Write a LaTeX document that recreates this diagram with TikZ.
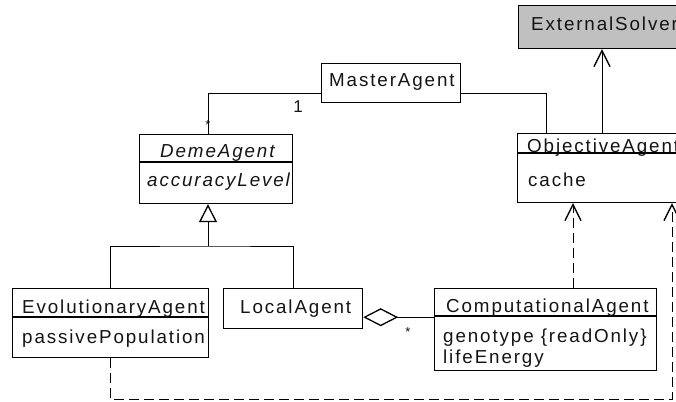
\documentclass[tikz,border=0pt]{standalone}
\usepackage{fontspec}
\setmainfont{Liberation Sans}[LetterSpace=10]
\usetikzlibrary{arrows.meta}
\definecolor{solvergray}{RGB}{192,192,192}
\definecolor{inkc}{RGB}{20,20,20}
\begin{document}
\begin{tikzpicture}[x=1pt,y=-1pt,
  box/.style={draw, line width=1.2pt, inner sep=0pt, anchor=north west},
  lbl/.style={anchor=base west, inner sep=0pt, text=inkc, font=\fontsize{18.8}{20}\selectfont},
  ilbl/.style={lbl, font=\fontsize{18.8}{20}\selectfont\itshape},
  mult/.style={anchor=base, inner sep=0pt, text=inkc, font=\fontsize{17}{18}\selectfont},
  ln/.style={line width=1pt},
  dsh/.style={line width=1pt, dash pattern=on 10pt off 5pt},
  vee/.style={-{Straight Barb[length=16pt,width=16pt,line width=1.3pt]}},
  gen/.style={-{Triangle[open,length=18pt,width=18pt,line width=1.3pt]}},
  agg/.style={{Diamond[open,length=35pt,width=18pt,line width=1.3pt]}-}
]
\useasboundingbox (0,0) rectangle (676,401);
\clip (0,0) rectangle (676,401);

% boxes
\node[box, fill=solvergray, minimum width=182pt, minimum height=43pt] (ext) at (518,5) {};
\node[box, minimum width=139pt, minimum height=39pt] (master) at (321,63) {};
\node[box, minimum width=153pt, minimum height=69pt] (deme) at (139,134) {};
\node[box, minimum width=183pt, minimum height=69pt] (obj) at (517,133) {};
\node[box, minimum width=196pt, minimum height=69pt] (evo) at (12,288) {};
\node[box, minimum width=139pt, minimum height=40pt] (local) at (223,288) {};
\node[box, minimum width=222pt, minimum height=82pt] (comp) at (434,288) {};

% dividers
\draw[line width=1.2pt] ([yshift=-28pt]deme.north west) -- ([yshift=-28pt]deme.north east);
\draw[line width=1.2pt] ([yshift=-20pt]obj.north west) -- ([yshift=-20pt]obj.north east);
\draw[line width=1.2pt] ([yshift=-29pt]evo.north west) -- ([yshift=-29pt]evo.north east);
\draw[line width=1.2pt] ([yshift=-28pt]comp.north west) -- ([yshift=-28pt]comp.north east);

% texts
\node[lbl] (tExt) at (531,31) {ExternalSolver};
\node[lbl] (tMaster) at (329,87) {MasterAgent};
\node[ilbl] (tDeme) at (160,157) {DemeAgent};
\node[ilbl] (tAcc) at (147,186) {accuracyLevel};
\node[lbl] (tObj) at (527,152) {ObjectiveAgent};
\node[lbl] (tCache) at (528,186) {cache};
\node[lbl] (tEvo) at (22,313) {EvolutionaryAgent};
\node[lbl] (tPass) at (22,343) {passivePopulation};
\node[lbl] (tLocal) at (240,313) {LocalAgent};
\node[lbl] (tComp) at (446,312) {ComputationalAgent};
\node[lbl] (tGeno) at (443,342) {genotype \{readOnly\}};
\node[lbl] (tLife) at (443,363) {lifeEnergy};

% multiplicities
\node[mult] (m1) at (298,113) {1};
\node[mult, font=\fontsize{13}{14}\selectfont] (mStarDeme) at (208,129) {*};
\node[mult, font=\fontsize{13}{14}\selectfont] (mStarComp) at (408,336) {*};

% associations
\draw[ln] ([yshift=10pt]master.south west) -| ([xshift=69pt]deme.north west);
\draw[ln] ([yshift=10pt]master.south east) -| ([xshift=29pt]obj.north west);
\draw[ln, vee] ([xshift=85pt]obj.north west) -- ([xshift=85pt]obj.north west |- ext.south);

% generalization
\coordinate (gj) at (208,246);
\draw[ln] ([xshift=98pt]evo.north west) |- (gj) -| ([xshift=70pt]local.north west);
\draw[ln, gen] (gj) -- ([xshift=69pt]deme.south west);

% aggregation
\draw[ln, agg] ([yshift=12pt]local.south east) -- ([yshift=12pt]local.south east -| comp.west);

% dependencies
\draw[dsh, vee] ([xshift=139pt]comp.north west) -- ([xshift=139pt]comp.north west |- obj.south);
\coordinate (dcorner) at (672,399);
\draw[dsh, vee] ([xshift=98pt]evo.south west) |- (dcorner) -- (dcorner |- obj.south);
\end{tikzpicture}
\end{document}
